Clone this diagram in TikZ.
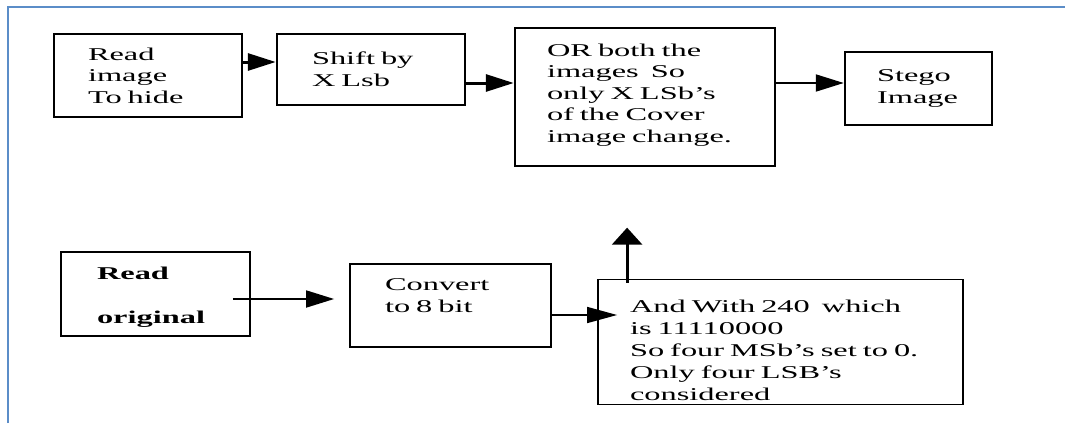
\documentclass[tikz,border=0pt]{standalone}
\usepackage{fontspec}
\setmainfont{Liberation Serif}[FakeStretch=1.8]
\usetikzlibrary{arrows.meta,calc}
\definecolor{framebl}{RGB}{91,141,200}
\begin{document}
\begin{tikzpicture}[x=1pt,y=-1pt,
  box/.style={draw, line width=2.5pt, align=left, font=\fontsize{18}{21.5}\selectfont},
  boxlow/.style={draw, line width=1.8pt, align=left, font=\fontsize{18}{22}\selectfont},
  arr/.style={-{Triangle[length=28pt,width=17pt]}, line width=2pt},
  uparr/.style={-{Triangle[length=17pt,width=30pt]}, line width=3pt}]
\useasboundingbox (0,0) rectangle (1065,423);
\draw[framebl, line width=1.5pt] (8,423) -- (8,7) -- (1065,7);
% top row
\node[box, inner xsep=34pt, text width=120pt, minimum height=83pt] (b1) at (148,75.5) {Read\\image\\To hide};
\node[box, inner xsep=35pt, text width=118pt, minimum height=71pt] (b2) at (371,69.5) {Shift by\\X Lsb};
\node[box, inner xsep=32pt, text width=196pt, minimum height=138pt] (b3) at (645,97) {OR both the\\images~~So\\only X LSb’s\\of the Cover\\image change.\rule[-8pt]{0pt}{0pt}};
\node[box, inner xsep=32pt, text width=83pt, minimum height=73pt] (b4) at (918.5,88.5) {Stego\\Image};
% bottom row
\node[boxlow, inner xsep=36pt, text width=117pt, minimum height=84pt, font=\fontsize{18}{22}\selectfont\bfseries] (b5) at (155.5,294) {\rule{0pt}{18pt}Read\\[22pt]original};
\node[boxlow, inner xsep=35pt, text width=131pt, minimum height=83pt] (b6) at (450.5,305.5) {Convert\\to 8 bit\rule[-20pt]{0pt}{0pt}};
\node[boxlow, inner xsep=32pt, text width=301pt, minimum height=118pt] (b7) at (780.5,342) {\rule{0pt}{30pt}And With 240~~which\\is 11110000\\\mbox{So four MSb’s set to 0.}\\Only four LSB’s\\considered};
% connectors
\coordinate (p1) at ([yshift=13.5pt]b1.east);
\draw[arr, line width=3pt] (p1) -- (p1 -| b2.west);
\coordinate (p2) at ([yshift=-13.5pt]b2.east);
\draw[arr, line width=3pt] (p2) -- (p2 -| b3.west);
\coordinate (p3) at ([yshift=14pt]b3.east);
\draw[arr] (p3) -- (p3 -| b4.west);
\coordinate (p4) at ([xshift=-18pt,yshift=-5pt]b5.east);
\coordinate (q4) at ($(p4 -| b6.west)+(-15,0)$);
\draw[arr, line width=1.8pt] (p4) -- (q4);
\coordinate (p5) at ([yshift=-9.5pt]b6.east);
\coordinate (q5) at ($(p5 -| b7.west)+(20,0)$);
\draw[arr, line width=1.5pt, -{Triangle[length=30pt,width=16pt]}] (p5) -- (q5);
\coordinate (p6) at ($(b7.north west)+(30,4)$);
\coordinate (q6) at ($(b7.north west)+(30,-51)$);
\draw[uparr] (p6) -- (q6);
\end{tikzpicture}
\end{document}
